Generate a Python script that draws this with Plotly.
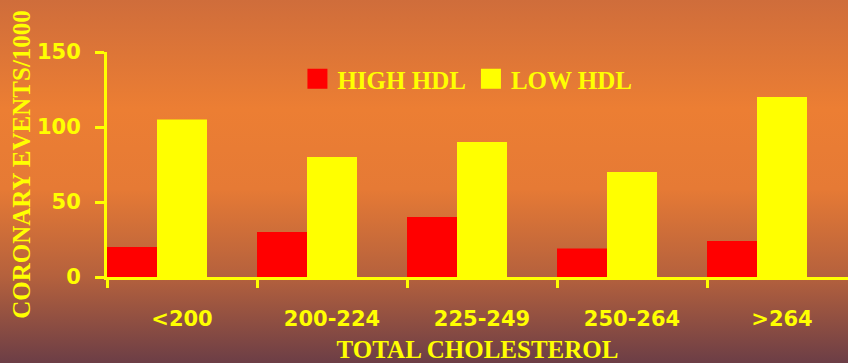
import base64
import plotly.graph_objects as go

# Coronary events per 1000 by total cholesterol band and HDL level
categories = ["<200", "200-224", "225-249", "250-264", ">264"]
high_hdl = [20, 30, 40, 19, 24]
low_hdl = [105, 80, 90, 70, 120]

YELLOW = "#FFFF00"
RED = "#FF0000"

W, H = 848, 363
ML, MT, MB = 107, 52, 86
PW, PH = W - ML, H - MT - MB

# vertical gradient for the backdrop
stops = [(0.0, "#CF6D3B"), (0.30, "#EC7E33"), (0.52, "#E67A35"),
         (0.76, "#B5613D"), (1.0, "#6C3E46")]
stop_xml = "".join(f'<stop offset="{o}" stop-color="{c}"/>' for o, c in stops)
svg = (f'<svg xmlns="http://www.w3.org/2000/svg" width="{W}" height="{H}" '
       f'viewBox="0 0 {W} {H}" preserveAspectRatio="none">'
       f'<defs><linearGradient id="g" x1="0" y1="0" x2="0" y2="1">{stop_xml}'
       f'</linearGradient></defs><rect width="{W}" height="{H}" fill="url(#g)"/></svg>')
bg_src = "data:image/svg+xml;base64," + base64.b64encode(svg.encode()).decode()

fig = go.Figure()
fig.add_trace(go.Bar(x=categories, y=high_hdl, name="HIGH HDL",
                     marker=dict(color=RED, line=dict(width=0)),
                     offset=-0.5, width=1/3, showlegend=False))
fig.add_trace(go.Bar(x=categories, y=low_hdl, name="LOW HDL",
                     marker=dict(color=YELLOW, line=dict(width=0)),
                     offset=-0.5 + 1/3, width=1/3, showlegend=False))
# legend keys with larger square swatches
for name, col in [("HIGH HDL", RED), ("LOW HDL", YELLOW)]:
    fig.add_trace(go.Scatter(x=[None], y=[None], mode="markers", name=name,
                             marker=dict(symbol="square", size=16, color=col,
                                         line=dict(color=col, width=4))))

tick_font = dict(family="DejaVu Sans", size=21, color=YELLOW, weight="bold")
title_font = dict(family="Liberation Serif", size=25, color=YELLOW, weight="bold")

fig.update_layout(
    width=W, height=H,
    margin=dict(l=ML, r=0, t=MT, b=MB),
    paper_bgcolor="#D8723A",
    plot_bgcolor="rgba(0,0,0,0)",
    barmode="overlay",
    images=[dict(source=bg_src, xref="paper", yref="paper",
                 x=-ML / PW, y=1 + MT / PH, sizex=W / PW, sizey=H / PH,
                 xanchor="left", yanchor="top", sizing="stretch", layer="below")],
    legend=dict(orientation="h", x=0.257, y=0.88, xanchor="left", yanchor="middle",
                bgcolor="rgba(0,0,0,0)", font=title_font, itemwidth=30,
                traceorder="normal"),
    xaxis=dict(type="category", categoryorder="array", categoryarray=categories,
               range=[-0.5, -0.5 + PW / 150], tickson="boundaries",
               showline=True, linecolor=YELLOW, linewidth=3,
               ticks="outside", ticklen=8, tickwidth=3, tickcolor=YELLOW,
               showgrid=False, zeroline=False, tickfont=tick_font,
               ticklabelstandoff=21,
               title=dict(text="TOTAL CHOLESTEROL", font=title_font, standoff=14)),
    yaxis=dict(range=[0, 150], tickvals=[0, 50, 100, 150],
               showline=True, linecolor=YELLOW, linewidth=3,
               ticks="outside", ticklen=9, tickwidth=3, tickcolor=YELLOW,
               showgrid=False, zeroline=False, tickfont=tick_font,
               ticklabelstandoff=10,
               title=dict(text="CORONARY EVENTS/1000", font=title_font, standoff=0)),
)

fig.write_html("out.html")
